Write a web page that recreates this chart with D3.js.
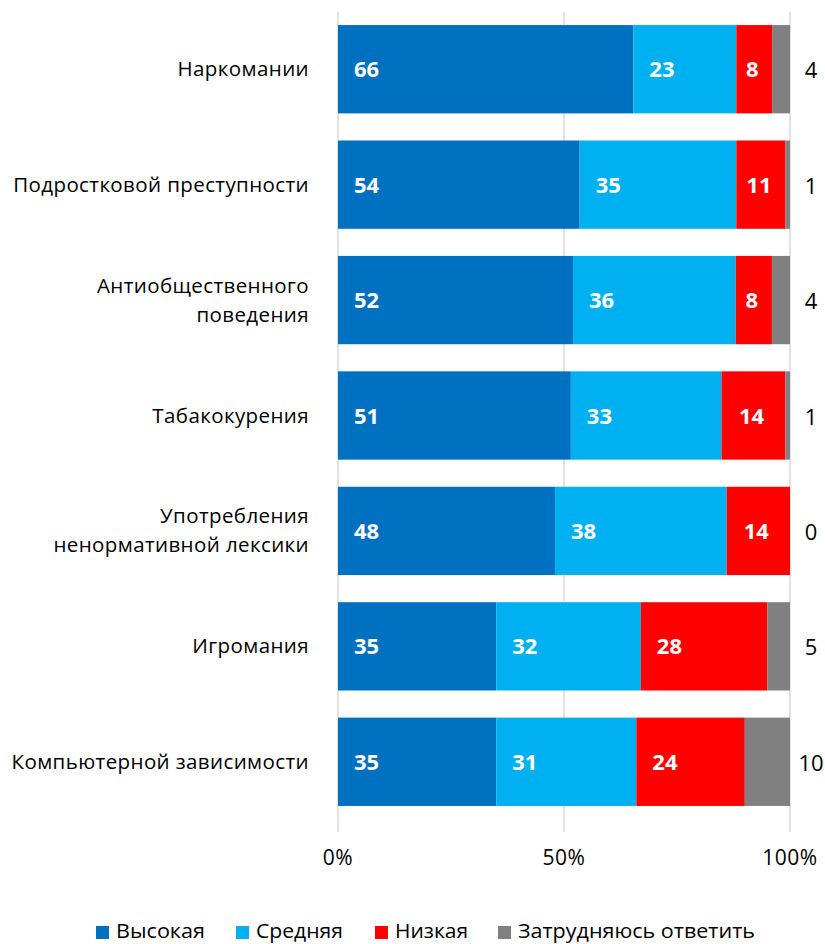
<!DOCTYPE html>
<html><head><meta charset="utf-8">
<script src="https://cdn.jsdelivr.net/npm/d3@7"></script>
<style>body{margin:0;background:#fff}svg{display:block}</style>
</head><body>
<script>
const categories = [
  ["Наркомании"],
  ["Подростковой преступности"],
  ["Антиобщественного", "поведения"],
  ["Табакокурения"],
  ["Употребления", "ненормативной лексики"],
  ["Игромания"],
  ["Компьютерной зависимости"]
];
const seriesNames = ["Высокая", "Средняя", "Низкая", "Затрудняюсь ответить"];
const high = [66, 54, 52, 51, 48, 35, 35];
const mid = [23, 35, 36, 33, 38, 32, 31];
const low = [8, 11, 8, 14, 14, 28, 24];
const unsure = [4, 1, 4, 1, 0, 5, 10];
const tickValues = [0, 0.5, 1];
const tickLabels = ["0%", "50%", "100%"];
const colors = ["#0070C0", "#00B0F0", "#FF0000", "#808080"];

const W = 825, H = 944;
const svg = d3.select("body").append("svg").attr("width", W).attr("height", H);
const font = "'Open Sans', sans-serif";

const rows = categories.map((c, i) => ({i, s0: high[i], s1: mid[i], s2: low[i], s3: unsure[i]}));
const keys = ["s0", "s1", "s2", "s3"];
const stacked = d3.stack().keys(keys).offset(d3.stackOffsetExpand)(rows);

const x = d3.scaleLinear().domain([0, 1]).range([338, 790]);
const y = d3.scaleBand().domain(d3.range(categories.length)).range([11.5, 819.5]).paddingInner(0.235).paddingOuter(0.1175);

// gridlines
svg.append("g").selectAll("line").data(tickValues).join("line")
  .attr("x1", d => x(d)).attr("x2", d => x(d))
  .attr("y1", 12).attr("y2", 832)
  .attr("stroke", "#d9d9d9").attr("stroke-width", 1.5);

// bars
const layers = svg.append("g").selectAll("g").data(stacked).join("g")
  .attr("fill", (d, k) => colors[k]);
layers.selectAll("rect").data(d => d).join("rect")
  .attr("x", d => x(d[0])).attr("width", d => x(d[1]) - x(d[0]))
  .attr("y", d => y(d.data.i)).attr("height", y.bandwidth());

// value labels
const vals = [high, mid, low, unsure];
stacked.forEach((layer, k) => {
  layer.forEach(d => {
    const i = d.data.i;
    const v = vals[k][i];
    const x0 = x(d[0]), x1 = x(d[1]);
    const cy = y(i) + y.bandwidth() / 2 + 8;
    if (k < 3) {
      const wide = (x1 - x0) > 70;
      svg.append("text")
        .attr("x", wide ? x0 + 16 : (x0 + x1) / 2 - 2)
        .attr("y", cy)
        .attr("text-anchor", wide ? "start" : "middle")
        .attr("fill", "#fff").attr("font-family", font).attr("font-weight", 700)
        .attr("font-size", 22).text(v);
    } else {
      svg.append("text")
        .attr("x", x(1) + 21).attr("y", cy + 1)
        .attr("text-anchor", "middle")
        .attr("fill", "#000").attr("font-family", font)
        .attr("font-size", 22).text(v);
    }
  });
});

// category labels
categories.forEach((lines, i) => {
  const cy = y(i) + y.bandwidth() / 2;
  const t = svg.append("text").attr("text-anchor", "end")
    .attr("font-family", font).attr("font-size", 20.5).attr("letter-spacing", 0.4).attr("fill", "#000");
  const lh = 29;
  lines.forEach((ln, j) => {
    t.append("tspan").attr("x", 309)
      .attr("y", cy + 7 + (j - (lines.length - 1) / 2) * lh)
      .text(ln);
  });
});

// x axis labels
svg.append("g").selectAll("text").data(tickValues).join("text")
  .attr("x", d => x(d)).attr("y", 865)
  .attr("text-anchor", "middle").attr("font-family", font).attr("font-size", 21)
  .attr("letter-spacing", 0.5)
  .attr("fill", "#000").text((d, i) => tickLabels[i]);

// legend
const legX = [96, 236, 375, 498];
const legW = [89, 87, 73, 237];
const lg = svg.append("g").selectAll("g").data(seriesNames).join("g");
lg.append("rect").attr("x", (d, i) => legX[i]).attr("y", 926).attr("width", 13).attr("height", 13)
  .attr("fill", (d, i) => colors[i]);
lg.append("text").attr("x", (d, i) => legX[i] + 20).attr("y", 938)
  .attr("font-family", font).attr("font-size", 20).attr("fill", "#000")
  .attr("textLength", (d, i) => legW[i]).attr("lengthAdjust", "spacingAndGlyphs")
  .text(d => d);
</script>
</body></html>
